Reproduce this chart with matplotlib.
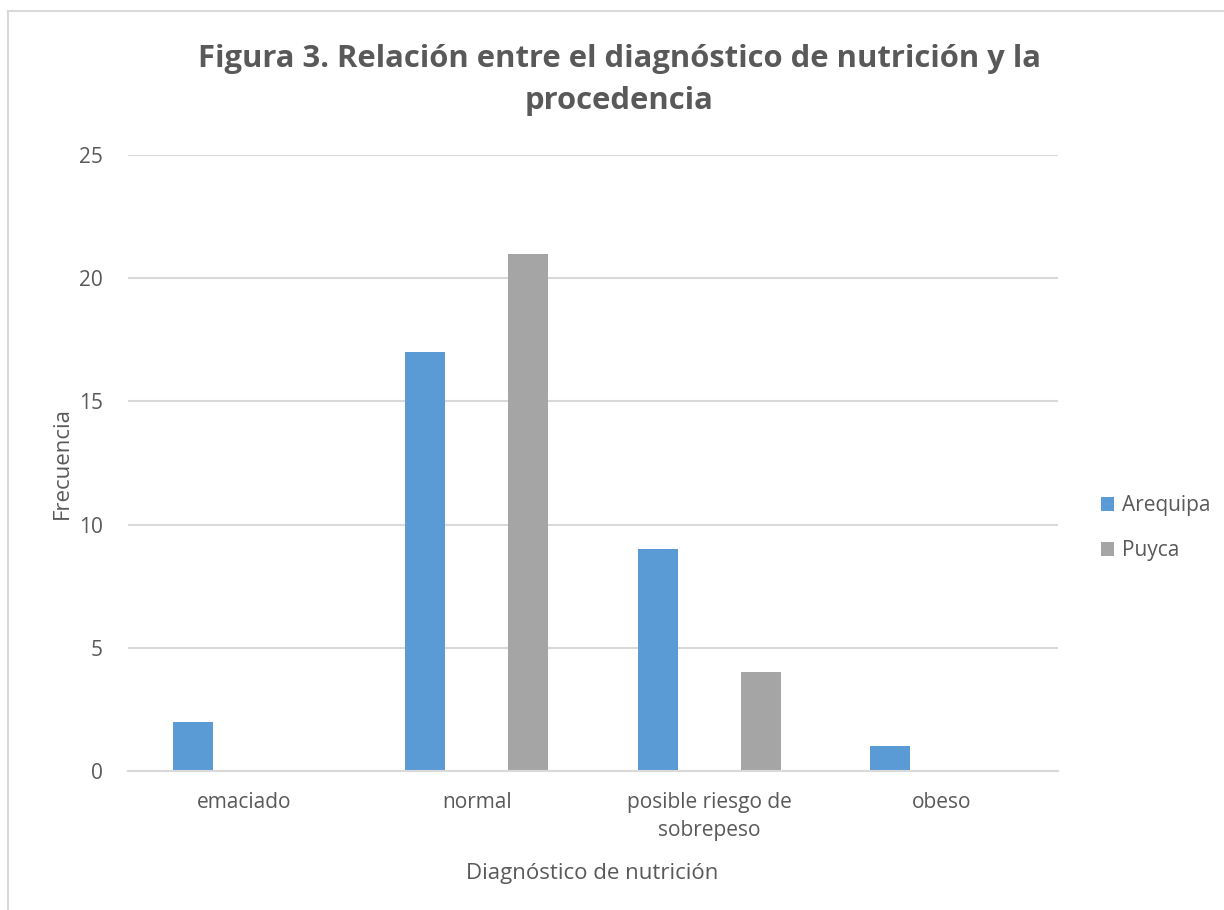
import matplotlib
matplotlib.use("Agg")
import matplotlib.pyplot as plt
import numpy as np

plt.rcParams['font.family'] = ['Open Sans', 'DejaVu Sans']

categories = ["emaciado", "normal", "posible riesgo de\nsobrepeso", "obeso"]
arequipa = [2, 17, 9, 1]
puyca = [0, 21, 4, 0]
series_names = ["Arequipa", "Puyca"]
y_ticks = [0, 5, 10, 15, 20, 25]

BLUE = "#5B9BD5"
GRAY = "#A5A5A5"
TEXT = "#595959"
GRID = "#D9D9D9"

fig = plt.figure(figsize=(12.24, 9.10), dpi=100)
ax = fig.add_axes([0.1046, 0.1527, 0.7598, 0.677])

x = np.arange(len(categories))
width = 0.172
offset = 0.222
ax.bar(x - offset, arequipa, width, color=BLUE, label=series_names[0], zorder=3)
ax.bar(x + offset, puyca, width, color=GRAY, label=series_names[1], zorder=3)

ax.set_xlim(-0.5, len(categories) - 0.5)
ax.set_ylim(0, 25)
ax.set_yticks(y_ticks)
ax.set_xticks(x)
ax.set_xticklabels(categories, linespacing=1.45)
ax.yaxis.grid(True, color=GRID, linewidth=1.5, zorder=0)
ax.set_axisbelow(True)
for s in ["top", "right", "left"]:
    ax.spines[s].set_visible(False)
ax.spines["bottom"].set_color(GRID)
ax.spines["bottom"].set_linewidth(1.5)
ax.spines["bottom"].set_zorder(4)
ax.tick_params(axis="both", length=0, colors=TEXT, labelsize=15)
ax.tick_params(axis="y", pad=18)
ax.tick_params(axis="x", pad=15)

fig.text(0.506, 0.912, "Figura 3. Relación entre el diagnóstico de nutrición y la\nprocedencia",
         ha="center", va="center", fontsize=22.3, fontweight="bold", color=TEXT,
         linespacing=1.5)
fig.text(0.051, 0.491, "Frecuencia", rotation=90, ha="center", va="center",
         fontsize=16, color=TEXT)
fig.text(0.484, 0.04, "Diagnóstico de nutrición", ha="center", va="center",
         fontsize=16, color=TEXT)

leg = ax.legend(loc="center left", bbox_to_anchor=(1.026, 0.394), frameon=False,
                fontsize=15, handlelength=0.65, handleheight=0.65,
                handletextpad=0.35, labelspacing=1.15, labelcolor=TEXT)

# chart area border (top and left edges visible)
fig.add_artist(plt.Line2D([8 / 1224, 1.0], [1 - 11 / 910, 1 - 11 / 910],
                          transform=fig.transFigure, color=GRID, linewidth=1.5))
fig.add_artist(plt.Line2D([8 / 1224, 8 / 1224], [0.0, 1 - 11 / 910],
                          transform=fig.transFigure, color=GRID, linewidth=1.5))

fig.savefig("out.png", dpi=100, facecolor="white")
